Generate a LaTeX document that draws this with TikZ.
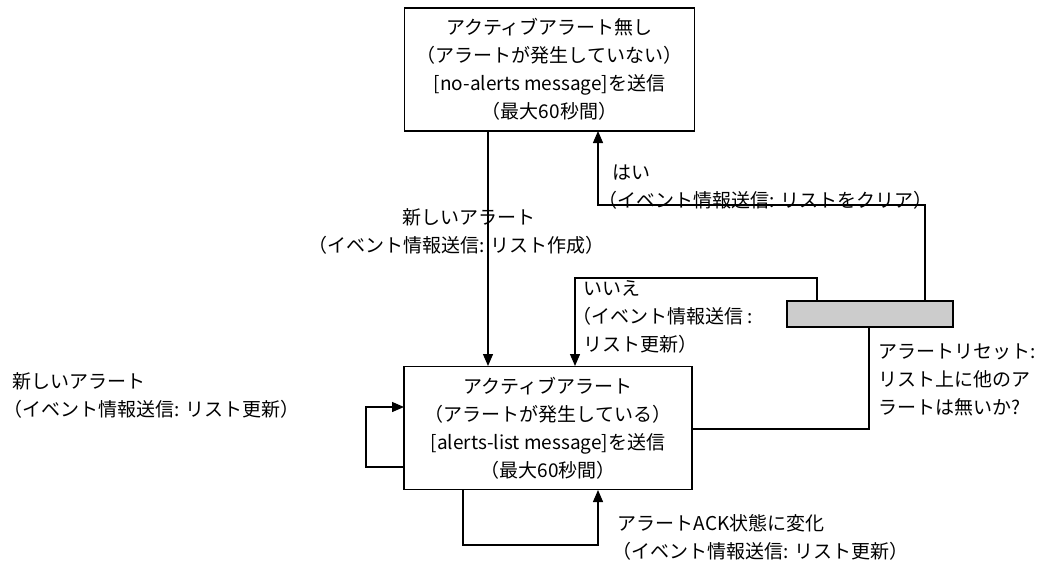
\documentclass[tikz,border=0pt]{standalone}
\usepackage{fontspec}
\setmainfont{Noto Sans CJK JP}
\usetikzlibrary{arrows.meta}
\begin{document}
\begin{tikzpicture}[x=1pt,y=-1pt,font=\fontsize{19}{28}\selectfont,
  line width=1.3pt, >={Triangle[length=12pt,width=10pt]}]
  \tikzstyle{state}=[draw, minimum width=290pt, minimum height=123pt, align=center, inner sep=0pt]
  \tikzstyle{lbl}=[align=left, inner sep=0pt, anchor=north west]
  \useasboundingbox (0,0) rectangle (1059,578);

  % Zustaende.
  \node[state] (none) at (549.5,69.5) {アクティブアラート無し\\（アラートが発生していない）\\{[}no-alerts message{]}を送信\\（最大60秒間）};
  \node[state, minimum width=288pt] (active) at (548,428) {アクティブアラート\\（アラートが発生している）\\{[}alerts-list message{]}を送信\\（最大60秒間）};
  \node[draw, fill=gray!40, minimum width=166pt, minimum height=26pt, inner sep=0pt] (reset) at (870,314) {};

  % Hilfspunkte.
  \coordinate (n1) at (488,131);
  \coordinate (a1) at (488,366);
  \coordinate (n2) at (598,131);
  \coordinate (r1) at (925,301);
  \coordinate (r2) at (817,301);
  \coordinate (a2) at (575,366);
  \coordinate (a3) at (692,429);
  \coordinate (r3) at (869,327);
  \coordinate (a4) at (404,467);
  \coordinate (a5) at (404,407);
  \coordinate (a6) at (463,490);
  \coordinate (a7) at (598,490);

  % Uebergaenge.
  \draw[->] (n1) -- (a1);
  \draw[->] (r1) |- (598,205) -- (n2);
  \draw[->] (r2) |- (575,278) -- (a2);
  \draw (a3) -| (r3);
  \draw[->] (a4) -- (366,467) |- (a5);
  \draw[->] (a6) |- (598,545) -- (a7);

  % Beschriftungen.
  \node[lbl] at (308,208) {\hspace*{94pt}新しいアラート\\（イベント情報送信: リスト作成）};
  \node[lbl] at (598,164) {\hspace*{14pt}はい\\（イベント情報送信: リストをクリア）};
  \node[lbl] at (572,280) {\hspace*{11pt}いいえ\\（イベント情報送信 :\\\hspace*{11pt}リスト更新）};
  \node[lbl] at (878,343) {アラートリセット:\\リスト上に他のア\\ラートは無いか?};
  \node[lbl] at (3,372) {\hspace*{9pt}新しいアラート\\（イベント情報送信: リスト更新）};
  \node[lbl] at (612,514) {\hspace*{5pt}アラートACK状態に変化\\（イベント情報送信: リスト更新）};
\end{tikzpicture}
\end{document}
